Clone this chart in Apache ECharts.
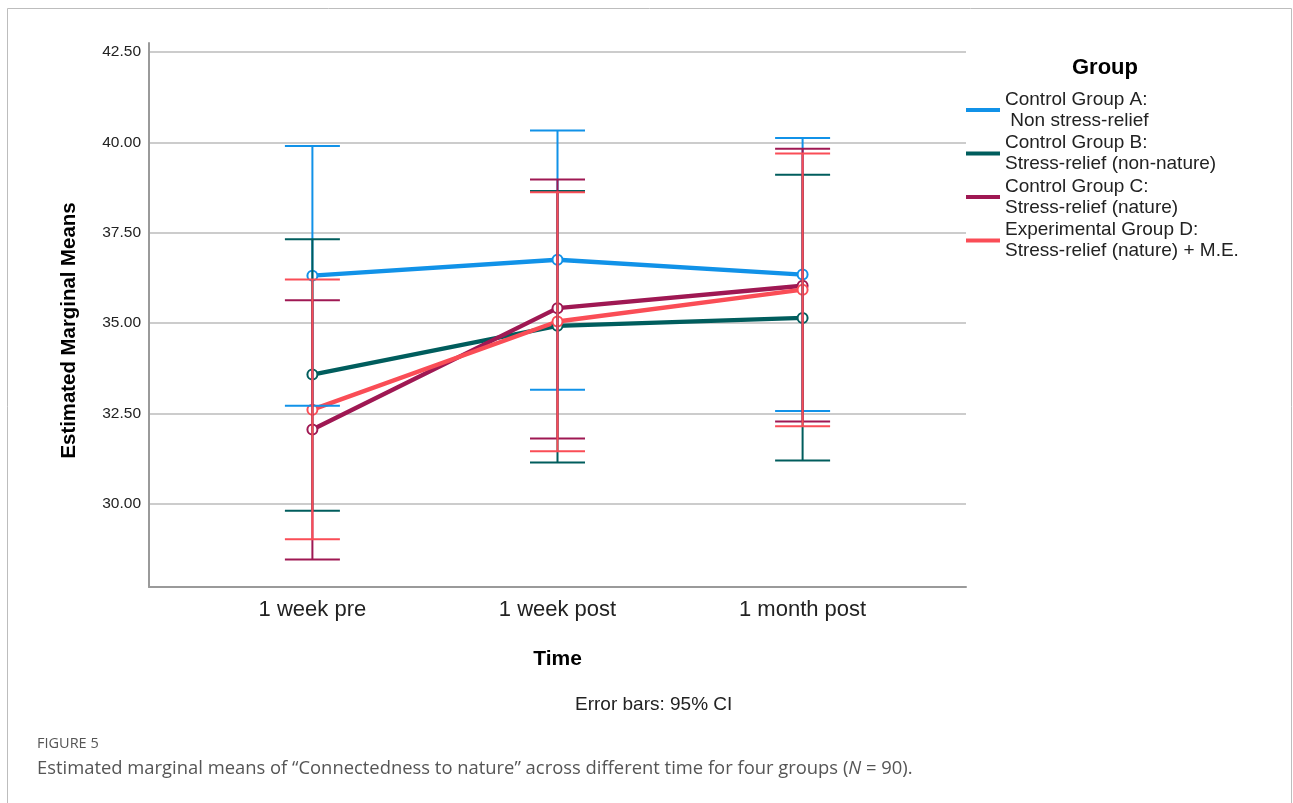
<!DOCTYPE html>
<html>
<head>
<meta charset="utf-8">
<script src="https://cdn.jsdelivr.net/npm/echarts@6/dist/echarts.min.js"></script>
<style>
  html, body { margin: 0; padding: 0; background: #fff; }
  #chart { width: 1293px; height: 803px; }
</style>
</head>
<body>
<div id="chart"></div>
<script>
// ---- data ----
const categories = ['1 week pre', '1 week post', '1 month post'];
const groupNames = [
  'Control Group A:\n Non stress-relief',
  'Control Group B:\nStress-relief (non-nature)',
  'Control Group C:\nStress-relief (nature)',
  'Experimental Group D:\nStress-relief (nature) + M.E.'
];
const groupColors = ['#1192e8', '#005d5d', '#9f1853', '#fa4d56'];

const meanA = [36.31, 36.75, 36.34];
const lowA  = [32.71, 33.15, 32.56];
const highA = [39.90, 40.33, 40.12];

const meanB = [33.57, 34.92, 35.14];
const lowB  = [29.80, 31.14, 31.19];
const highB = [37.32, 38.65, 39.10];

const meanC = [32.05, 35.41, 36.03];
const lowC  = [28.45, 31.80, 32.27];
const highC = [35.63, 38.97, 39.82];

const meanD = [32.60, 35.04, 35.92];
const lowD  = [29.01, 31.45, 32.14];
const highD = [36.20, 38.62, 39.69];

const yTicks = [30, 32.5, 35, 37.5, 40, 42.5];
const xTicks = [0, 1, 2];

const means = [meanA, meanB, meanC, meanD];
const lows  = [lowA, lowB, lowC, lowD];
const highs = [highA, highB, highC, highD];

const FONT = '"Liberation Sans", Arial, sans-serif';
const CAPFONT = '"Open Sans", sans-serif';

const chart = echarts.init(document.getElementById('chart'), null, { renderer: 'canvas' });

const lineSeries = groupNames.map((name, g) => ({
  name: name,
  type: 'line',
  z: 2,
  data: means[g].map((v, i) => [i, v]),
  symbol: 'emptyCircle',
  symbolSize: 10,
  lineStyle: { width: 4.3, color: groupColors[g] },
  itemStyle: { color: groupColors[g], borderWidth: 1.6 },
  emphasis: { disabled: true },
  animation: false
}));

const capHalf = 27.5;
const errSeries = groupNames.map((name, g) => ({
  name: name + ' CI',
  type: 'custom',
  z: 3,
  data: means[g].map((v, i) => [i, lows[g][i], highs[g][i]]),
  renderItem: function (params, api) {
    const x = api.value(0);
    const lo = api.coord([x, api.value(1)]);
    const hi = api.coord([x, api.value(2)]);
    const style = { stroke: groupColors[g], lineWidth: 2 };
    return {
      type: 'group',
      children: [
        { type: 'line', shape: { x1: lo[0], y1: lo[1], x2: hi[0], y2: hi[1] }, style: style },
        { type: 'line', shape: { x1: lo[0] - capHalf, y1: lo[1], x2: lo[0] + capHalf, y2: lo[1] }, style: style },
        { type: 'line', shape: { x1: hi[0] - capHalf, y1: hi[1], x2: hi[0] + capHalf, y2: hi[1] }, style: style }
      ]
    };
  },
  silent: true,
  animation: false
}));

const option = {
  backgroundColor: '#ffffff',
  animation: false,
  textStyle: { fontFamily: FONT },
  grid: { left: 149, right: 327, top: 43, bottom: 216, containLabel: false },
  xAxis: {
    type: 'value',
    min: -2 / 3,
    max: 8 / 3,
    name: 'Time',
    nameLocation: 'middle',
    nameGap: 62,
    nameTextStyle: { fontFamily: FONT, fontSize: 21, fontWeight: 'bold', color: '#000' },
    axisLine: { show: true, onZero: false, lineStyle: { color: '#9a9a9a', width: 2 } },
    axisTick: { show: false },
    splitLine: { show: false },
    axisLabel: {
      customValues: xTicks,
      margin: 12,
      fontSize: 22,
      color: '#222',
      fontFamily: FONT,
      formatter: function (v) { return categories[Math.round(v)]; }
    }
  },
  yAxis: {
    type: 'value',
    min: 27.69,
    max: 42.75,
    axisLine: { show: true, onZero: false, lineStyle: { color: '#9a9a9a', width: 2 } },
    axisTick: { show: false, customValues: yTicks },
    splitLine: { show: true, lineStyle: { color: '#cccccc', width: 2 } },
    axisLabel: {
      customValues: yTicks,
      margin: 8,
      fontSize: 15.5,
      color: '#222',
      fontFamily: FONT,
      padding: [8, 0, 0, 0],
      formatter: function (v) { return v.toFixed(2); }
    }
  },
  legend: {
    orient: 'vertical',
    left: 966,
    top: 89,
    padding: 0,
    icon: 'rect',
    itemWidth: 34,
    itemHeight: 4,
    itemGap: 1.5,
    data: groupNames,
    selectedMode: false,
    textStyle: { fontFamily: FONT, fontSize: 19, lineHeight: 21, color: '#222' }
  },
  graphic: [
    {
      type: 'rect',
      silent: true,
      shape: { x: 7.5, y: 8.5, width: 1284, height: 800 },
      style: { fill: 'none', stroke: '#bdbdbd', lineWidth: 1 }
    },
    {
      type: 'text', x: 69, y: 330.5, rotation: Math.PI / 2,
      style: {
        text: 'Estimated Marginal Means', font: 'bold 20.4px ' + FONT, fill: '#000',
        align: 'center', verticalAlign: 'middle'
      }
    },
    {
      type: 'text', left: 1072, top: 57,
      style: { text: 'Group', font: 'bold 22px ' + FONT, fill: '#000' }
    },
    {
      type: 'text', left: 575, top: 695,
      style: { text: 'Error bars: 95% CI', font: '19px ' + FONT, fill: '#222' }
    },
    {
      type: 'text', left: 37, top: 736,
      style: { text: 'FIGURE 5', font: '14.5px ' + CAPFONT, fill: '#555' }
    },
    {
      type: 'text', left: 37, top: 760,
      style: {
        text: 'Estimated marginal means of \u201cConnectedness to nature\u201d across different time for four groups ({i|N} = 90).',
        font: '18.4px ' + CAPFONT,
        fill: '#555',
        rich: { i: { fontStyle: 'italic', fontSize: 18.4, fontFamily: CAPFONT, fill: '#555' } }
      }
    }
  ],
  series: lineSeries.concat(errSeries)
};

chart.setOption(option);
</script>
</body>
</html>
